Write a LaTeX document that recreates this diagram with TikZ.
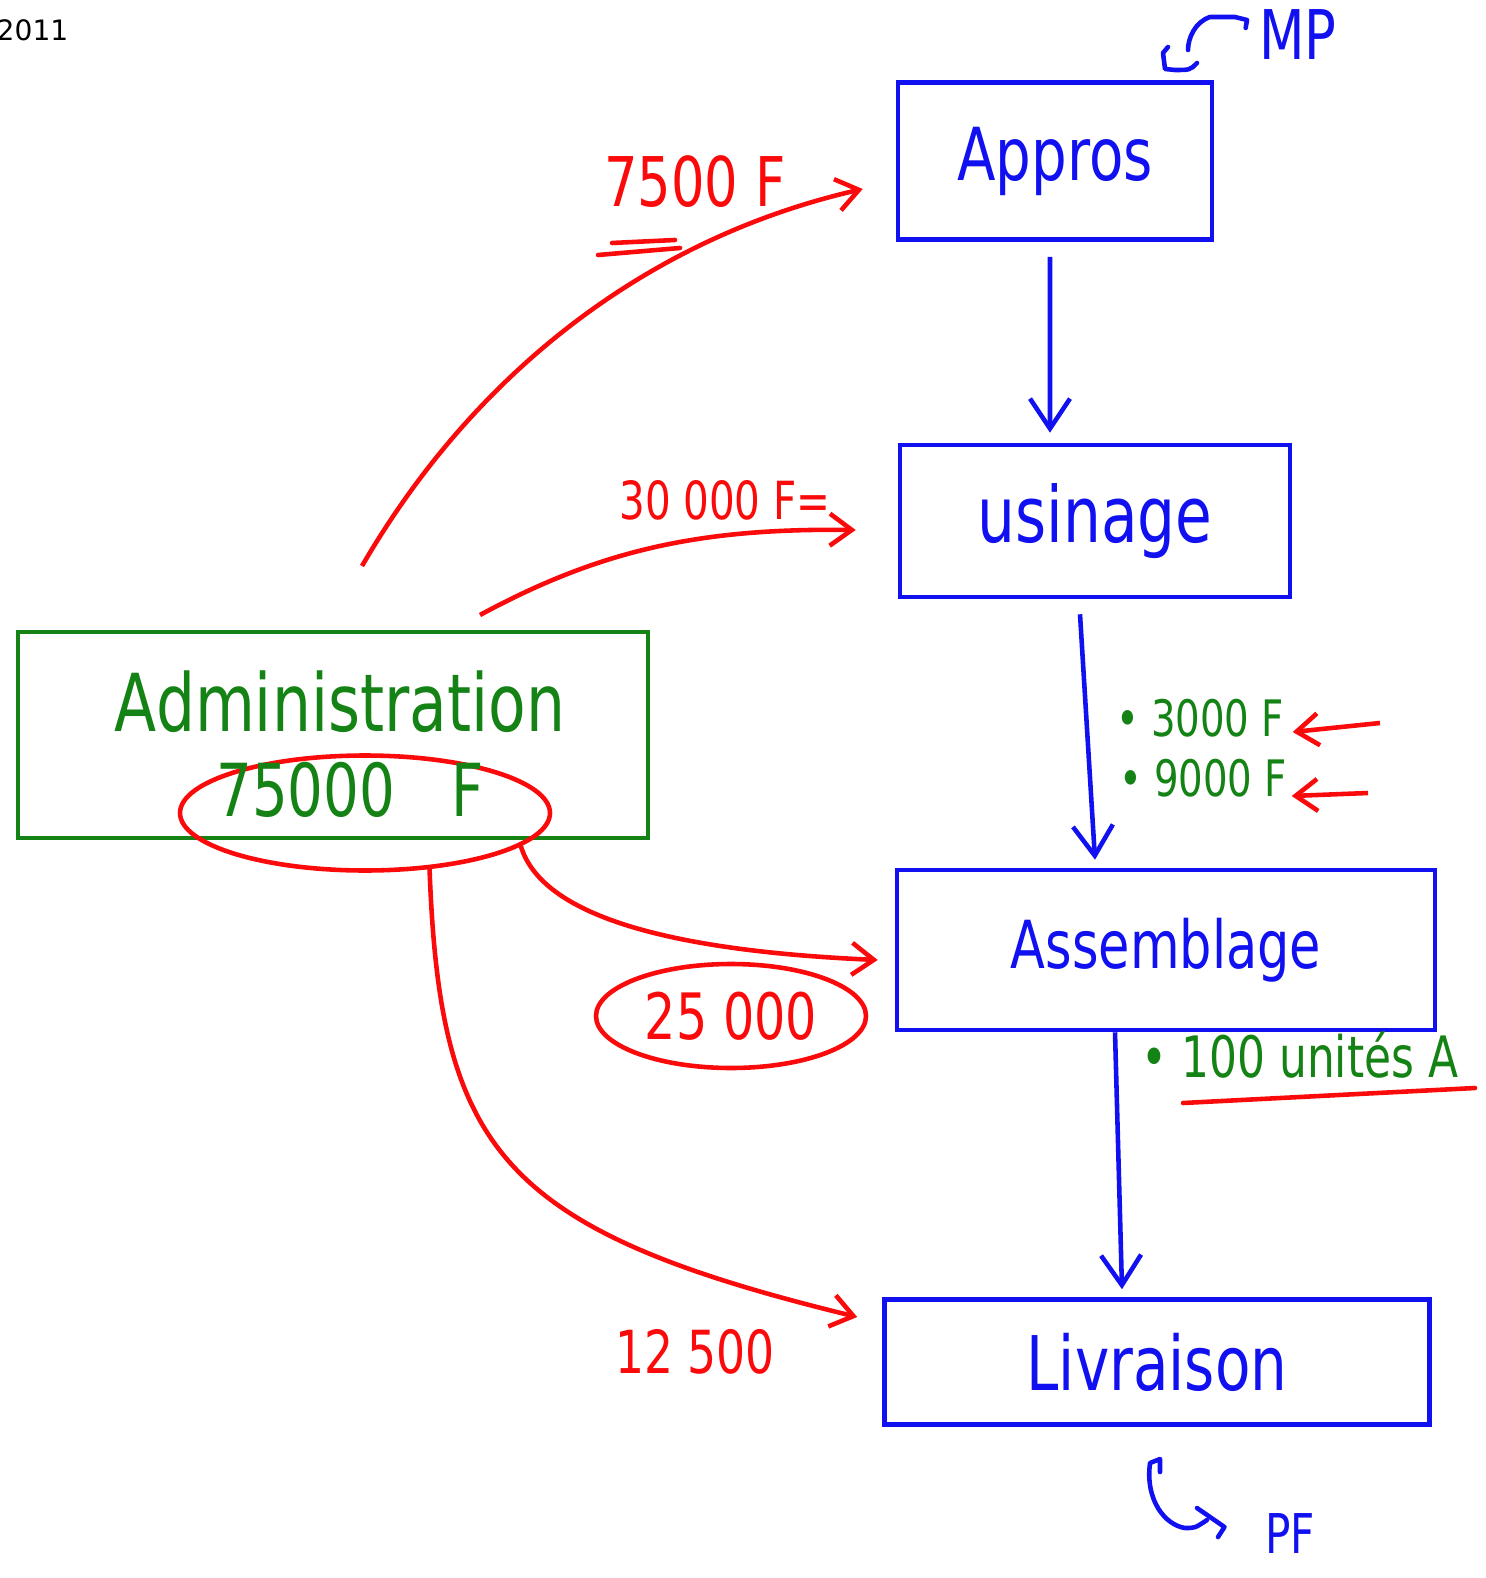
\documentclass[tikz,border=0pt]{standalone}
\usepackage{fontspec}
\setmainfont{DejaVu Sans}
\usepackage{graphicx}
\usetikzlibrary{arrows.meta,shapes.geometric}
\definecolor{inkblue}{RGB}{16,16,240}
\definecolor{inkred}{RGB}{250,10,10}
\definecolor{inkgreen}{RGB}{20,130,20}
\newcommand{\hw}[1]{\scalebox{1}[1.3]{#1}}

\begin{document}
\begin{tikzpicture}[x=0.1mm,y=-0.1mm]
\tikzstyle{every node}+=[inner sep=0pt]
\tikzstyle{bluebox}=[draw=inkblue, line width=1.3pt, text=inkblue]
\tikzstyle{greenbox}=[draw=inkgreen, line width=1.3pt]
\tikzstyle{greentext}=[text=inkgreen]
\tikzstyle{redtext}=[text=inkred]
\tikzstyle{redring}=[draw=inkred, line width=1.3pt, ellipse]
\tikzstyle{bluearrow}=[draw=inkblue, line width=1.3pt, -{Straight Barb[length=3mm,width=4mm]}]
\tikzstyle{redarrow}=[draw=inkred, line width=1.3pt, -{Straight Barb[length=2.2mm,width=3.2mm]}]
\tikzstyle{redline}=[draw=inkred, line width=1.3pt, line cap=round]
\tikzstyle{blueline}=[draw=inkblue, line width=1.3pt, line cap=round, line join=round]
\useasboundingbox (0,0) rectangle (1486,1578);
\node[anchor=east, font=\fontsize{8}{10}\selectfont] (year) at (69,30) {2011};
\node[bluebox, minimum width=31.4mm, minimum height=15.7mm, font=\fontsize{16}{18}\selectfont] (appros) at (1055,161) {\hw{Appros}};
\node[bluebox, minimum width=39mm, minimum height=15.2mm, font=\fontsize{17}{19}\selectfont] (usinage) at (1095,521) {\hw{usinage}};
\node[bluebox, minimum width=53.8mm, minimum height=16mm, font=\fontsize{14.5}{17}\selectfont] (assemblage) at (1166,950) {\hw{Assemblage}};
\node[bluebox, minimum width=54.5mm, minimum height=12.5mm, font=\fontsize{16.5}{19}\selectfont] (livraison) at (1157,1362) {\hw{Livraison}};
\node[greenbox, minimum width=63mm, minimum height=20.6mm] (admin) at (333,735) {};
\node[greentext, font=\fontsize{17.5}{20}\selectfont] (admintitle) at (340,702) {\hw{Administration}};
\node[redring, minimum width=37mm, minimum height=11.5mm] (ring) at (365,813) {};
\node[greentext, font=\fontsize{16}{18}\selectfont] (total) at (350,790) {\hw{75000\quad F}};
\node[text=inkblue, font=\fontsize{15}{17}\selectfont] (mp) at (1298,35) {\hw{MP}};
\node[text=inkblue, font=\fontsize{12}{14}\selectfont] (pf) at (1290,1533) {\hw{PF}};
\draw[bluearrow] ([xshift=-0.5mm,yshift=-1.5mm]appros.south) -- ([xshift=-4.5mm,yshift=1mm]usinage.north);
\draw[bluearrow] ([xshift=-1.5mm,yshift=-1.5mm]usinage.south) -- ([xshift=-7.1mm,yshift=0.8mm]assemblage.north);
\draw[bluearrow] ([xshift=-5.1mm]assemblage.south) -- ([xshift=-3.5mm,yshift=0.8mm]livraison.north);
\draw[blueline] ([xshift=-1.3mm,yshift=0.7mm]mp.west) -- (1247,20) -- (1235,17) -- (1210,17) .. controls (1195,22) and (1188,38) .. (1188,50);
\draw[blueline] (1197,63) .. controls (1190,70) .. (1175,70) -- (1165,69) -- (1163,53) -- (1168,47);
\draw[blueline] (1160,1472) -- (1160,1459) -- (1150,1463) .. controls (1145,1500) and (1165,1525) .. (1185,1528) .. controls (1195,1528) .. (1207,1520);
\draw[blueline] (1197,1508) -- ([xshift=-4mm,yshift=0.6mm]pf.west) -- (1218,1537);
\coordinate (start1) at (362,566);
\coordinate (start2) at (480,615);
\draw[redarrow] (start1) .. controls (470,380) and (640,240) .. ([xshift=-3.3mm,yshift=-2.8mm]appros.west);
\draw[redarrow] (start2) .. controls (600,550) and (700,528) .. ([xshift=-4.2mm,yshift=-0.9mm]usinage.west);
\draw[redarrow] (ring.-12) .. controls (540,910) and (650,950) .. ([xshift=-1.7mm,yshift=-1mm]assemblage.west);
\draw[redarrow] (ring.-41) .. controls (440,1150) and (500,1230) .. ([xshift=-2.5mm,yshift=4.5mm]livraison.west);
\node[redtext, font=\fontsize{15}{17}\selectfont] (cost1) at (695,182) {\hw{7500 F}};
\draw[redline] (612,243) -- (675,240);
\draw[redline] (598,255) -- (680,248);
\node[redtext, font=\fontsize{11.5}{14}\selectfont] (cost2) at (725,500) {\hw{30 000 F=}};
\node[redring, text=inkred, minimum width=27mm, minimum height=10.4mm, font=\fontsize{14}{16}\selectfont] (cost3) at (731,1016) {\hw{25 000}};
\node[redtext, font=\fontsize{13}{15}\selectfont] (cost4) at (695,1352) {\hw{12 500}};
\node[greentext, font=\fontsize{11}{13}\selectfont] (note1) at (1200,718) {\hw{• 3000 F}};
\node[greentext, font=\fontsize{11}{13}\selectfont] (note2) at (1203,778) {\hw{• 9000 F}};
\coordinate (in1) at (1380,723);
\coordinate (in2) at (1368,793);
\draw[redarrow] (in1) -- ([xshift=0.8mm,yshift=-1.4mm]note1.east);
\draw[redarrow] (in2) -- ([xshift=0.4mm,yshift=-1.8mm]note2.east);
\node[greentext, font=\fontsize{12.5}{15}\selectfont] (note3) at (1300,1055) {\hw{• 100 unités A}};
\draw[redline] (1183,1103) -- (1475,1088);
\end{tikzpicture}
\end{document}
